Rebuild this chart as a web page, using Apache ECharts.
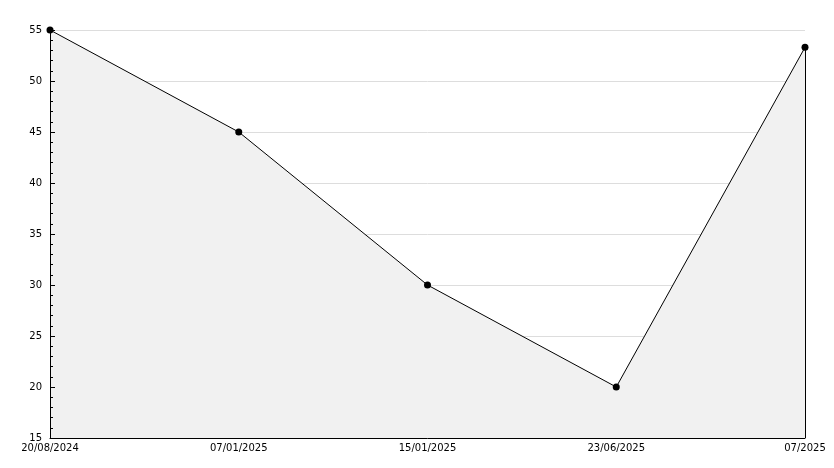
<!DOCTYPE html>
<html><head><meta charset="utf-8">
<script src="https://cdn.jsdelivr.net/npm/echarts@6/dist/echarts.min.js"></script>
<style>html,body{margin:0;padding:0;background:#fff}#c{width:834px;height:468px}</style>
</head><body><div id="c"></div>
<script>
const categories = ["20/08/2024", "07/01/2025", "15/01/2025", "23/06/2025", "07/2025"];
const values = [55, 45, 30, 20, 53.3];
const yMin = 15, yMax = 55, yStep = 5;

const chart = echarts.init(document.getElementById('c'), null, {renderer: 'canvas'});
const last = categories.length - 1;
chart.setOption({
  animation: false,
  grid: {left: 50, right: 29, top: 30, bottom: 30},
  xAxis: {
    type: 'category', data: categories, boundaryGap: false, z: 10,
    axisLine: {lineStyle: {color: '#000', width: 1}},
    axisTick: {show: false},
    axisLabel: {color: '#000', fontFamily: 'DejaVu Sans', fontSize: 10, margin: 5, interval: 0},
    splitLine: {show: false}
  },
  yAxis: [{
    type: 'value', min: yMin, max: yMax, interval: yStep, z: 0,
    axisLine: {show: false}, axisTick: {show: false}, axisLabel: {show: false},
    splitLine: {show: true, lineStyle: {color: '#dddddd', width: 1}}
  }, {
    type: 'value', min: yMin, max: yMax, interval: yStep, z: 10, position: 'left',
    axisLine: {show: true, lineStyle: {color: '#000', width: 1}},
    axisTick: {show: true, inside: true, length: 5, lineStyle: {color: '#000'}},
    minorTick: {show: true, splitNumber: 5, length: 3, lineStyle: {color: '#000'}},
    axisLabel: {color: '#000', fontFamily: 'DejaVu Sans', fontSize: 10, margin: 8},
    splitLine: {show: false}
  }],
  series: [{
    type: 'line', data: values, z: 2, yAxisIndex: 0,
    lineStyle: {color: '#000', width: 1},
    itemStyle: {color: '#000'},
    symbol: 'circle', symbolSize: 7,
    areaStyle: {color: '#f1f1f1', opacity: 1, origin: 'start'},
    markLine: {
      silent: true, symbol: 'none', label: {show: false},
      lineStyle: {color: '#000', width: 1, type: 'solid'},
      data: [[{coord: [categories[last], values[last]]}, {coord: [categories[last], yMin]}]]
    }
  }]
});
</script></body></html>
